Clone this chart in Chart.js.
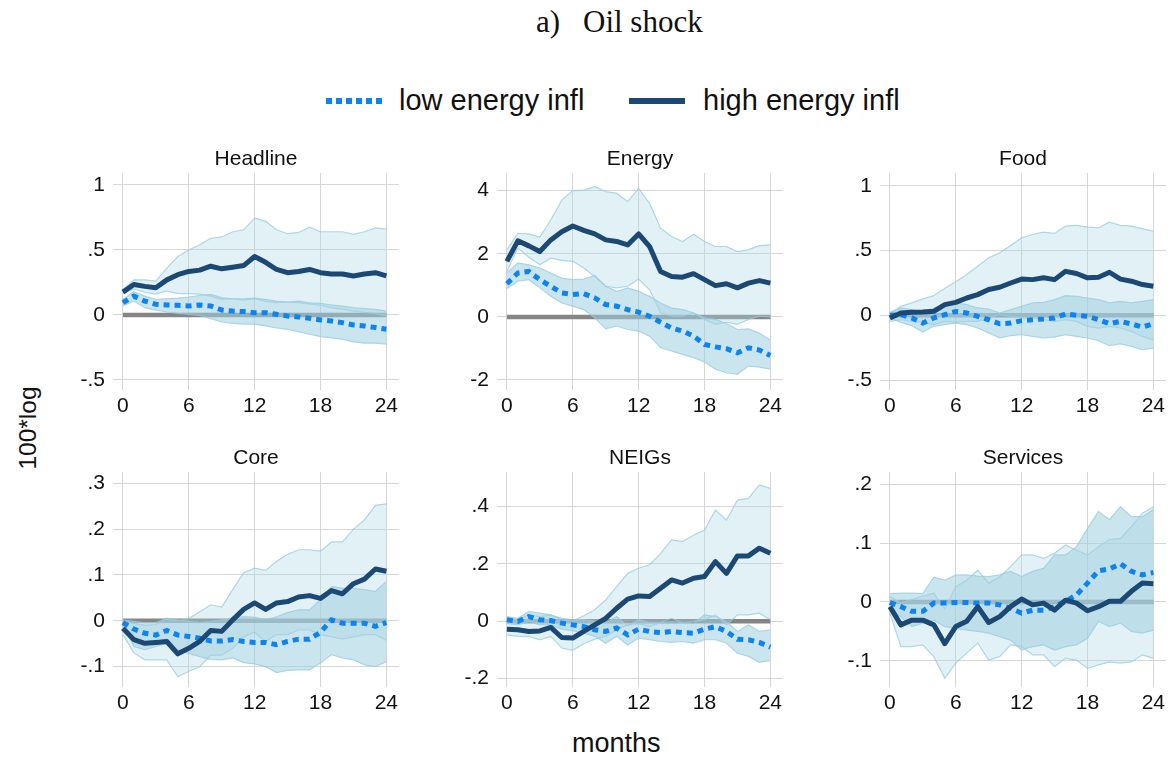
<!DOCTYPE html>
<html><head><meta charset="utf-8">
<script src="https://cdn.jsdelivr.net/npm/chart.js@4.4.1/dist/chart.umd.min.js"></script>
<style>
html,body{margin:0;padding:0;background:#fff;}
#wrap{position:relative;width:1173px;height:760px;overflow:hidden;font-family:'Liberation Sans',Arial,sans-serif;color:#111;}
#wrap canvas{position:absolute;}
.txt{position:absolute;white-space:nowrap;}
</style></head>
<body><div id="wrap">
<div class="txt" style="left:536px;top:5px;font-family:'Liberation Serif','Times New Roman',serif;font-size:31px;line-height:34px;">a)</div>
<div class="txt" style="left:583px;top:5px;font-family:'Liberation Serif','Times New Roman',serif;font-size:31px;line-height:34px;">Oil shock</div>
<div style="position:absolute;left:326px;top:98px;width:56px;height:6px;background:repeating-linear-gradient(90deg,#0d83f2 0 6px,transparent 6px 10px);"></div>
<div class="txt" style="left:399px;top:84px;font-size:29px;line-height:33px;">low energy infl</div>
<div style="position:absolute;left:629px;top:98px;width:56px;height:6px;background:#1b4874;"></div>
<div class="txt" style="left:703px;top:84px;font-size:29px;line-height:33px;">high energy infl</div>
<div class="txt" style="left:572px;top:728px;font-size:27px;line-height:31px;">months</div>
<div class="txt" style="left:-22px;top:414px;width:100px;text-align:center;font-size:24.5px;line-height:28px;transform:rotate(-90deg);">100*log</div>
</div>
<script>
// ---------- data ----------
const months = [0,1,2,3,4,5,6,7,8,9,10,11,12,13,14,15,16,17,18,19,20,21,22,23,24];
const xTicks = [0,6,12,18,24];
const zeroLine = [0,0,0,0,0,0,0,0,0,0,0,0,0,0,0,0,0,0,0,0,0,0,0,0,0];

const headlineTicks = [-0.5,0,0.5,1];
const headlineHigh   = [0.176,0.235,0.22,0.21,0.27,0.31,0.335,0.345,0.375,0.355,0.367,0.38,0.45,0.405,0.35,0.325,0.335,0.35,0.325,0.315,0.315,0.30,0.315,0.325,0.30];
const headlineHighHi = [0.19,0.27,0.27,0.26,0.36,0.45,0.50,0.54,0.59,0.60,0.64,0.655,0.745,0.72,0.655,0.625,0.635,0.675,0.64,0.64,0.64,0.62,0.64,0.67,0.66];
const headlineHighLo = [0.165,0.2,0.175,0.16,0.185,0.165,0.165,0.16,0.145,0.12,0.125,0.115,0.125,0.105,0.095,0.10,0.095,0.085,0.075,0.055,0.045,0.03,0.02,0.012,-0.01];
const headlineLow    = [0.095,0.145,0.107,0.082,0.077,0.074,0.069,0.077,0.069,0.038,0.03,0.026,0.018,0.018,0.005,-0.008,-0.015,-0.025,-0.038,-0.046,-0.059,-0.077,-0.084,-0.097,-0.11];
const headlineLowHi  = [0.12,0.18,0.145,0.12,0.125,0.13,0.138,0.15,0.158,0.133,0.125,0.125,0.13,0.12,0.107,0.10,0.107,0.094,0.09,0.077,0.069,0.056,0.05,0.043,0.03];
const headlineLowLo  = [0.069,0.107,0.056,0.038,0.023,0.013,0.005,-0.003,-0.028,-0.054,-0.064,-0.071,-0.071,-0.084,-0.10,-0.11,-0.13,-0.148,-0.166,-0.176,-0.186,-0.207,-0.217,-0.217,-0.224];

const energyTicks = [-2,0,2,4];
const energyHigh   = [1.76,2.41,2.25,2.07,2.44,2.7,2.88,2.74,2.63,2.44,2.39,2.28,2.63,2.23,1.44,1.28,1.26,1.37,1.18,0.99,1.05,0.92,1.07,1.15,1.07];
const energyHighHi = [2.13,2.65,2.63,2.53,3.07,3.7,4.0,4.02,4.13,3.97,3.92,3.65,4.07,3.6,2.81,2.55,2.39,2.62,2.39,2.23,2.23,2.07,2.13,2.26,2.28];
const energyHighLo = [1.44,2.18,1.89,1.65,1.86,1.79,1.76,1.55,1.28,0.97,0.92,0.97,1.2,0.86,0.13,0.02,0.02,0.13,-0.08,-0.24,-0.17,-0.24,-0.08,0.02,0.0];
const energyLow    = [1.05,1.39,1.44,1.18,0.97,0.76,0.71,0.74,0.6,0.39,0.34,0.23,0.15,0.02,-0.17,-0.35,-0.45,-0.61,-0.87,-0.95,-1.01,-1.14,-0.98,-1.05,-1.22];
const energyLowHi  = [1.39,1.71,1.65,1.55,1.39,1.23,1.18,1.2,1.31,0.97,0.81,0.92,0.81,0.65,0.44,0.28,0.23,0.13,-0.03,-0.08,-0.21,-0.4,-0.38,-0.51,-0.74];
const energyLowLo  = [0.9,1.13,1.18,0.92,0.65,0.44,0.34,0.23,-0.03,-0.38,-0.29,-0.4,-0.45,-0.61,-0.98,-1.08,-1.19,-1.29,-1.43,-1.66,-1.77,-1.82,-1.56,-1.59,-1.66];

const foodTicks = [-0.5,0,0.5,1];
const foodHigh   = [-0.02,0.018,0.023,0.026,0.031,0.083,0.1,0.134,0.16,0.2,0.217,0.25,0.28,0.276,0.29,0.276,0.34,0.323,0.29,0.295,0.333,0.28,0.264,0.238,0.225];
const foodHighHi = [0.013,0.07,0.096,0.127,0.152,0.21,0.26,0.315,0.38,0.444,0.483,0.54,0.6,0.625,0.643,0.633,0.69,0.695,0.682,0.677,0.72,0.695,0.69,0.67,0.65];
const foodHighLo = [-0.047,-0.034,-0.047,-0.054,-0.072,-0.047,-0.054,-0.047,-0.047,-0.02,0.005,-0.008,-0.02,-0.02,-0.034,-0.047,-0.034,-0.047,-0.085,-0.098,-0.085,-0.098,-0.124,-0.163,-0.19];
const foodLow    = [0,0.005,-0.02,-0.06,-0.02,0.005,0.03,0.018,-0.008,-0.034,-0.065,-0.06,-0.041,-0.034,-0.028,-0.02,0.01,0,-0.008,-0.034,-0.065,-0.047,-0.067,-0.09,-0.065];
const foodLowHi  = [0.023,0.057,0.044,0.018,0.057,0.083,0.096,0.083,0.057,0.049,0.018,0.044,0.07,0.096,0.1,0.121,0.152,0.147,0.134,0.121,0.096,0.108,0.096,0.108,0.121];
const foodLowLo  = [-0.02,-0.054,-0.08,-0.13,-0.085,-0.072,-0.06,-0.072,-0.098,-0.137,-0.175,-0.157,-0.15,-0.163,-0.175,-0.168,-0.15,-0.163,-0.175,-0.196,-0.235,-0.22,-0.24,-0.266,-0.253];

const coreTicks = [-0.1,0,0.1,0.2,0.3];
const coreHigh   = [-0.016,-0.041,-0.049,-0.047,-0.045,-0.072,-0.06,-0.045,-0.021,-0.023,0.002,0.025,0.039,0.025,0.039,0.042,0.052,0.055,0.049,0.066,0.059,0.081,0.091,0.113,0.108];
const coreHighHi = [-0.001,-0.005,-0.01,-0.008,0.003,0.0,0.005,0.02,0.035,0.03,0.068,0.105,0.115,0.11,0.13,0.145,0.155,0.155,0.152,0.172,0.172,0.2,0.22,0.252,0.255];
const coreHighLo = [-0.03,-0.07,-0.085,-0.085,-0.085,-0.122,-0.11,-0.1,-0.075,-0.075,-0.06,-0.035,-0.025,-0.045,-0.03,-0.03,-0.02,-0.02,-0.03,-0.035,-0.04,-0.035,-0.03,-0.03,-0.042];
const coreLow    = [-0.004,-0.018,-0.027,-0.031,-0.021,-0.031,-0.034,-0.038,-0.044,-0.044,-0.041,-0.045,-0.047,-0.047,-0.052,-0.045,-0.04,-0.04,-0.025,0.002,-0.005,-0.005,-0.005,-0.012,-0.004];
const coreLowHi  = [0.002,-0.001,-0.004,-0.004,0.006,0.002,-0.001,-0.004,-0.001,0.002,0.006,0.009,0.008,0.002,0.009,0.018,0.024,0.024,0.046,0.075,0.071,0.071,0.068,0.064,0.086];
const coreLowLo  = [-0.009,-0.056,-0.063,-0.056,-0.049,-0.063,-0.071,-0.078,-0.084,-0.085,-0.081,-0.091,-0.094,-0.1,-0.113,-0.108,-0.107,-0.107,-0.092,-0.074,-0.081,-0.085,-0.096,-0.1,-0.089];

const neigsTicks = [-0.2,0,0.2,0.4];
const neigsHigh   = [-0.028,-0.03,-0.036,-0.034,-0.022,-0.057,-0.059,-0.036,-0.013,0.01,0.045,0.077,0.088,0.086,0.115,0.144,0.133,0.15,0.156,0.208,0.167,0.228,0.228,0.255,0.237];
const neigsHighHi = [0.01,0.005,0.022,0.016,0.022,0.005,0.0,0.019,0.04,0.074,0.121,0.167,0.185,0.197,0.237,0.284,0.278,0.3,0.318,0.388,0.353,0.423,0.429,0.476,0.464];
const neigsHighLo = [-0.048,-0.053,-0.053,-0.065,-0.053,-0.094,-0.102,-0.079,-0.063,-0.053,-0.03,-0.013,-0.009,-0.019,-0.005,0.01,-0.007,-0.001,0.005,0.022,-0.013,0.022,0.022,0.028,0.005];
const neigsLow    = [0.005,-0.001,0.016,0.005,0.002,-0.007,-0.013,-0.019,-0.03,-0.036,-0.024,-0.048,-0.028,-0.036,-0.04,-0.036,-0.04,-0.042,-0.028,-0.019,-0.036,-0.063,-0.065,-0.074,-0.091];
const neigsLowHi  = [0.016,0.01,0.034,0.028,0.022,0.01,0.005,0.005,-0.001,-0.007,0.016,-0.016,0.005,-0.005,-0.005,-0.001,-0.005,-0.007,0.022,0.016,-0.001,-0.036,-0.013,-0.036,-0.03];
const neigsLowLo  = [-0.009,-0.013,-0.001,-0.013,-0.013,-0.028,-0.033,-0.042,-0.053,-0.077,-0.053,-0.083,-0.059,-0.065,-0.071,-0.074,-0.071,-0.077,-0.065,-0.065,-0.077,-0.112,-0.123,-0.144,-0.137];

const servicesTicks = [-0.1,0,0.1,0.2];
const servicesHigh   = [-0.008,-0.039,-0.031,-0.031,-0.039,-0.071,-0.042,-0.033,-0.008,-0.035,-0.025,-0.008,0.005,-0.005,-0.002,-0.014,0.003,-0.002,-0.015,-0.008,0.001,0.001,0.018,0.032,0.031];
const servicesHighHi = [0.009,-0.002,0.004,0.01,0.015,-0.012,0.026,0.037,0.054,0.032,0.043,0.06,0.08,0.08,0.074,0.083,0.097,0.088,0.08,0.094,0.106,0.108,0.128,0.151,0.162];
const servicesHighLo = [-0.019,-0.076,-0.076,-0.073,-0.093,-0.13,-0.104,-0.087,-0.07,-0.099,-0.093,-0.073,-0.076,-0.09,-0.09,-0.11,-0.096,-0.099,-0.113,-0.107,-0.102,-0.104,-0.102,-0.09,-0.096];
const servicesLow    = [-0.001,-0.008,-0.016,-0.016,-0.002,-0.002,-0.001,-0.001,-0.002,-0.002,-0.005,-0.011,-0.019,-0.014,-0.014,-0.008,0.001,0.012,0.032,0.053,0.056,0.065,0.052,0.046,0.05];
const servicesLowHi  = [0.014,0.015,0.015,0.014,0.042,0.037,0.046,0.046,0.044,0.043,0.046,0.052,0.043,0.052,0.057,0.08,0.08,0.094,0.125,0.154,0.14,0.162,0.145,0.145,0.157];
const servicesLowLo  = [-0.014,-0.025,-0.042,-0.036,-0.031,-0.042,-0.045,-0.048,-0.05,-0.053,-0.059,-0.065,-0.082,-0.076,-0.073,-0.082,-0.076,-0.073,-0.062,-0.033,-0.042,-0.036,-0.05,-0.053,-0.048];

// ---------- style / layout ----------
const FONT = "'Liberation Sans', Arial, sans-serif";
const C_HIGH = '#1b4874';
const C_LOW = '#0d83f2';
const FILL_HIGH = 'rgba(173,216,230,0.36)';
const FILL_LOW = 'rgba(160,208,224,0.55)';
const EDGE = 'rgba(150,204,222,0.75)';
const GRID = '#d6d6d6';

const panels = [
  {title:'Headline', L:113, T:173, R:399, B:390, min:-0.577, max:1.092, ticks:headlineTicks, hi:headlineHigh, hiHi:headlineHighHi, hiLo:headlineHighLo, lo:headlineLow, loHi:headlineLowHi, loLo:headlineLowLo},
  {title:'Energy', L:497, T:173, R:783, B:390, min:-2.317, max:4.56, ticks:energyTicks, hi:energyHigh, hiHi:energyHighHi, hiLo:energyHighLo, lo:energyLow, loHi:energyLowHi, loLo:energyLowLo},
  {title:'Food', L:880, T:173, R:1166, B:390, min:-0.577, max:1.1, ticks:foodTicks, hi:foodHigh, hiHi:foodHighHi, hiLo:foodHighLo, lo:foodLow, loHi:foodLowHi, loLo:foodLowLo},
  {title:'Core', L:113, T:472, R:399, B:687, min:-0.1443, max:0.3246, ticks:coreTicks, hi:coreHigh, hiHi:coreHighHi, hiLo:coreHighLo, lo:coreLow, loHi:coreLowHi, loLo:coreLowLo},
  {title:'NEIGs', L:497, T:472, R:783, B:687, min:-0.230, max:0.521, ticks:neigsTicks, hi:neigsHigh, hiHi:neigsHighHi, hiLo:neigsHighLo, lo:neigsLow, loHi:neigsLowHi, loLo:neigsLowLo},
  {title:'Services', L:880, T:472, R:1166, B:687, min:-0.1447, max:0.221, ticks:servicesTicks, hi:servicesHigh, hiHi:servicesHighHi, hiLo:servicesHighLo, lo:servicesLow, loHi:servicesLowHi, loLo:servicesLowLo}
];

function fmtTick(v){
  if (Math.abs(v) < 1e-9) return '0';
  let s = String(Math.round(v*1000)/1000);
  return s.replace(/^0\./,'.').replace(/^-0\./,'-.');
}

const wrap = document.getElementById('wrap');
const AX_W = 80, TOP_H = 40, X_H = 40, PAD_R = 20;

panels.forEach(p => {
  const cv = document.createElement('canvas');
  const w = (p.R - p.L) + AX_W + PAD_R;
  const h = (p.B - p.T) + TOP_H + X_H;
  cv.width = w; cv.height = h;
  cv.style.width = w + 'px'; cv.style.height = h + 'px';
  cv.style.left = (p.L - AX_W) + 'px'; cv.style.top = (p.T - TOP_H) + 'px';
  wrap.appendChild(cv);
  const band = {pointRadius:0, borderColor:EDGE, borderWidth:1.2};
  new Chart(cv, {
    type:'line',
    data:{labels:months, datasets:[
      {label:'zero', data:zeroLine, borderColor:'#858585', borderWidth:4.5, pointRadius:0, fill:false, order:10},
      Object.assign({label:'high hi', data:p.hiHi, backgroundColor:FILL_HIGH, fill:2, order:9}, band),
      Object.assign({label:'high lo', data:p.hiLo, fill:false, order:8}, band),
      Object.assign({label:'low hi', data:p.loHi, backgroundColor:FILL_LOW, fill:4, order:7}, band),
      Object.assign({label:'low lo', data:p.loLo, fill:false, order:6}, band),
      {label:'low energy infl', data:p.lo, borderColor:C_LOW, borderWidth:5, borderDash:[6,5], borderCapStyle:'butt', pointRadius:0, fill:false, order:2},
      {label:'high energy infl', data:p.hi, borderColor:C_HIGH, borderWidth:5, borderJoinStyle:'round', borderCapStyle:'butt', pointRadius:0, fill:false, order:1}
    ]},
    options:{
      responsive:false, animation:false, devicePixelRatio:1,
      layout:{padding:{left:0, right:PAD_R, top:0, bottom:0}},
      elements:{line:{tension:0}, point:{radius:0}},
      plugins:{
        legend:{display:false}, tooltip:{enabled:false},
        title:{display:true, text:p.title, fullSize:false, color:'#111',
               font:{family:FONT, size:21, weight:'normal', lineHeight:'25px'},
               padding:{top:14, bottom:1}}
      },
      scales:{
        x:{type:'linear', min:-0.9, max:25.15,
           afterBuildTicks:s => { s.ticks = xTicks.map(v => ({value:v})); },
           afterFit:s => { s.height = X_H; s.paddingLeft = 0; s.paddingRight = 0; },
           grid:{color:GRID, lineWidth:1, drawTicks:false},
           border:{display:false},
           ticks:{padding:4, color:'#111', font:{family:FONT, size:21}, maxRotation:0, autoSkip:false, callback:v => fmtTick(v)}},
        y:{min:p.min, max:p.max,
           afterBuildTicks:s => { s.ticks = p.ticks.map(v => ({value:v})); },
           afterFit:s => { s.width = AX_W; s.paddingTop = 0; s.paddingBottom = 0; },
           grid:{color:GRID, lineWidth:1, drawTicks:false},
           border:{display:false},
           ticks:{padding:8, color:'#111', font:{family:FONT, size:21}, autoSkip:false, callback:v => fmtTick(v)}}
      }
    }
  });
});
</script>
</body></html>
